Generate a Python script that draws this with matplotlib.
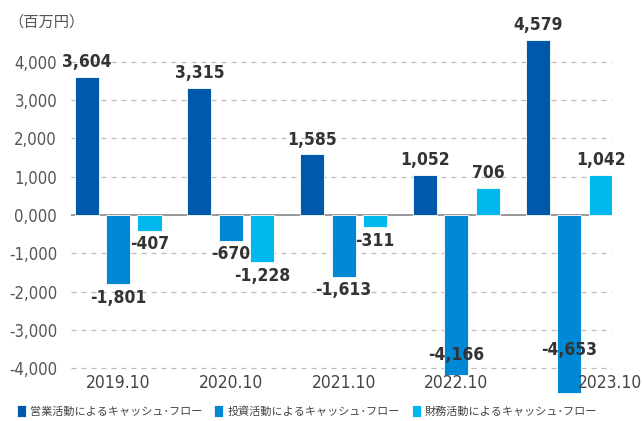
import matplotlib.pyplot as plt
from matplotlib import font_manager
import numpy as np

years = ['2019.10', '2020.10', '2021.10', '2022.10', '2023.10']
series_names = ['営業活動によるキャッシュ･フロー', '投資活動によるキャッシュ･フロー', '財務活動によるキャッシュ･フロー']
operating = [3604, 3315, 1585, 1052, 4579]
investing = [-1801, -670, -1613, -4166, -4653]
financing = [-407, -1228, -311, 706, 1042]
yticks = [4000, 3000, 2000, 1000, 0, -1000, -2000, -3000, -4000]

colors = ['#0058AA', '#0088D4', '#00B7EE']
jp_font = ['Noto Sans CJK JP', 'DejaVu Sans']

# narrow font for numbers if one is available
fonts = font_manager.fontManager.ttflist
names = {f.name for f in fonts}
num_stretch = 'normal'
if 'Liberation Sans Narrow' in names:
    num_font = ['Liberation Sans Narrow']
elif any(f.name == 'DejaVu Sans' and f.stretch == 'condensed' for f in fonts):
    num_font = ['DejaVu Sans']
    num_stretch = 'condensed'
else:
    num_font = ['DejaVu Sans']
scale = 1.0 if num_stretch == 'condensed' or num_font[0] != 'DejaVu Sans' else 0.88

fig = plt.figure(figsize=(6.43, 4.21), dpi=100)
ax = fig.add_axes([71 / 643, 26 / 421, 541 / 643, 360 / 421])
ax.set_xlim(-0.417, 4.38)
ax.set_ylim(-4700, 4700)

x = np.arange(len(years))
off = 0.279
w = 0.213
lab_kw = dict(family=num_font, stretch=num_stretch, weight='bold',
              fontsize=12.5 * scale, color='#333333', zorder=4, ha='center')
for i, vals in enumerate([operating, investing, financing]):
    ax.bar(x + (i - 1) * off, vals, width=w, color=colors[i],
           edgecolor='white', linewidth=0.6, zorder=3, label=series_names[i])
    for xi, v in zip(x + (i - 1) * off, vals):
        if v >= 0:
            ax.text(xi, v + 150, f'{v:,}', va='bottom', **lab_kw)
        elif v < -4000:
            pos = -3650 if v > -4500 else -3520
            ax.text(xi, pos, f'{v:,}', va='center', **lab_kw)
        else:
            ax.text(xi, v - 120, f'{v:,}', va='top', **lab_kw)

for t in yticks:
    if t == 0:
        ax.axhline(0, color='#888888', linewidth=1.2, zorder=2)
    else:
        ax.axhline(t, color='#bbbbbb', linewidth=0.9, linestyle=(0, (4, 4)), zorder=1)

ax.set_yticks(yticks)
ax.set_yticklabels(['0,000' if t == 0 else f'{t:,}' for t in yticks],
                   family=num_font, stretch=num_stretch, fontsize=12 * scale,
                   color='#555555')
ax.tick_params(axis='y', length=0, pad=10)
ax.set_xticks([])
for s in ax.spines.values():
    s.set_visible(False)

for xi, lab in zip(x, years):
    xx = xi + 0.36 if lab == '2023.10' else xi
    ax.text(xx, -4390, lab, ha='center', va='center', family=num_font,
            stretch=num_stretch, fontsize=12.5 * scale, color='#444444')

fig.text(8 / 643, 1 - 22 / 421, '（百万円）', family=jp_font, fontsize=11,
         color='#555555', va='center', ha='left')

fig.legend(loc='center left', bbox_to_anchor=(17 / 643, 1 - 411 / 421), ncol=3,
           frameon=False, prop={'family': jp_font, 'size': 8},
           handlelength=0.8, handleheight=1.4, handletextpad=0.35, columnspacing=1.1,
           labelcolor='#444444', borderaxespad=0, borderpad=0)

fig.savefig('out.png', dpi=100)
